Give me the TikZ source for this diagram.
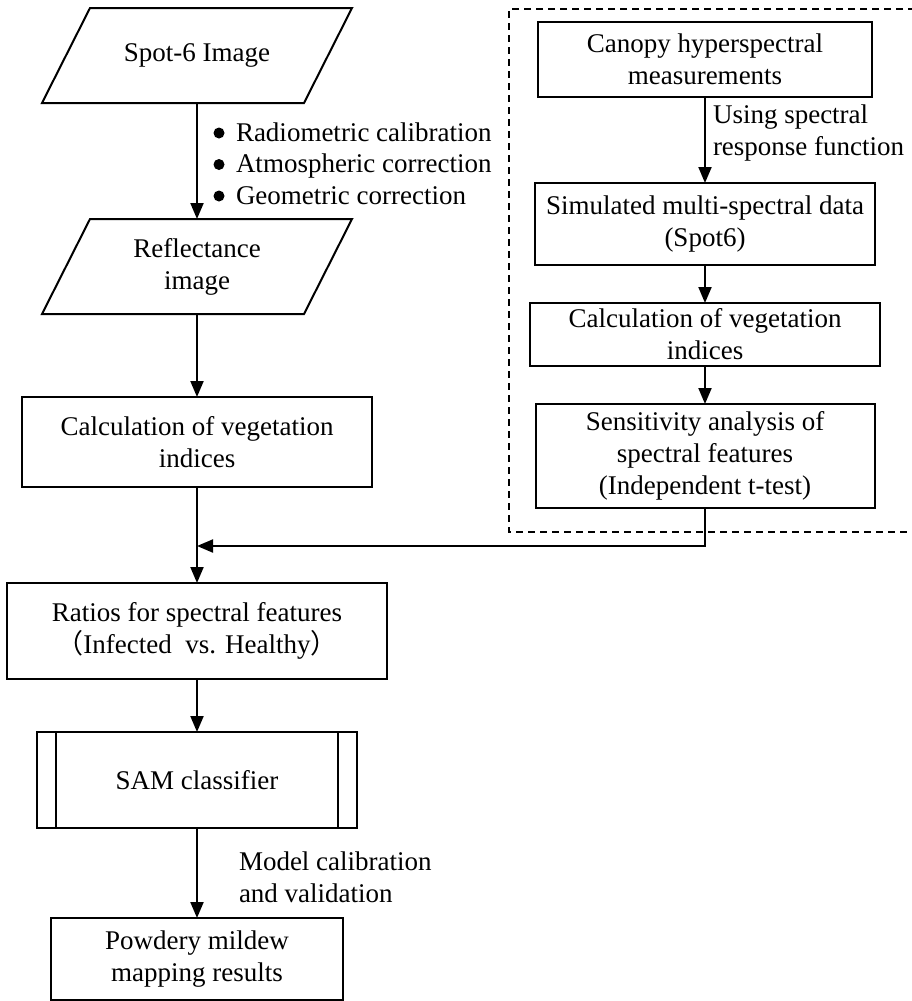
\documentclass[tikz,border=0pt]{standalone}
\usepackage{fontspec}
\setmainfont{Liberation Serif}
\newfontfamily\cjk{Noto Sans CJK SC}
\usetikzlibrary{arrows.meta}
\begin{document}
\begin{tikzpicture}[x=1pt,y=-1pt,
  every node/.style={font=\fontsize{27}{32}\selectfont, inner sep=0pt, outer sep=0pt},
  box/.style={draw, line width=2pt, align=center},
  para/.style={align=center},
  lbl/.style={align=left, anchor=west},
  bl/.style={anchor=base west},
  arr/.style={line width=2pt, -{Triangle[length=16pt,width=13pt]}},
  ln/.style={line width=2pt},
  dashbox/.style={line width=1.6pt, dash pattern=on 7pt off 5pt}
]
\useasboundingbox (0,0) rectangle (911,1001);

% ---- left column ----
\node[para, minimum width=262pt, minimum height=95pt] (spot) at (197,55.5) {Spot-6 Image};
\draw[ln, line join=miter] ([xshift=24pt]spot.north west) -- ([xshift=24pt]spot.north east)
  -- ([xshift=-24pt]spot.south east) -- ([xshift=-24pt]spot.south west) -- cycle;

\node[para, minimum width=262pt, minimum height=95pt] (refl) at (197,266.5) {Reflectance\\image};
\draw[ln, line join=miter] ([xshift=24pt]refl.north west) -- ([xshift=24pt]refl.north east)
  -- ([xshift=-24pt]refl.south east) -- ([xshift=-24pt]refl.south west) -- cycle;

\node[box, minimum width=350pt, minimum height=90pt] (calc) at (197,442) {Calculation of vegetation\\indices};
\node[box, minimum width=380pt, minimum height=96pt] (ratio) at (197,631)
  {Ratios for spectral features\\{\cjk （}Infected\ \ vs. Healthy{\cjk ）}};
\node[box, minimum width=320pt, minimum height=96pt] (sam) at (197,780) {SAM classifier};
\draw[ln] ([xshift=19pt]sam.north west) -- ([xshift=19pt]sam.south west);
\draw[ln] ([xshift=-19pt]sam.north east) -- ([xshift=-19pt]sam.south east);
\node[box, minimum width=292pt, minimum height=82pt] (map) at (197,959) {Powdery mildew\\mapping results};

\node[bl] (pre1) at (236,141) {Radiometric calibration};
\node[bl] (pre2) at (236,172.5) {Atmospheric correction};
\node[bl] (pre3) at (236,204) {Geometric correction};
\fill ([xshift=-17pt,yshift=8pt]pre1.base west) circle (5.5pt);
\fill ([xshift=-17pt,yshift=8pt]pre2.base west) circle (5.5pt);
\fill ([xshift=-17pt,yshift=8pt]pre3.base west) circle (5.5pt);
\node[lbl] (mcal) at (239,877) {Model calibration\\and validation};

\coordinate (j) at (197,546);
\draw[arr] (spot.south) -- (refl.north);
\draw[arr] (refl.south) -- (calc.north);
\draw[arr] (calc.south) -- (ratio.north);
\draw[arr] (ratio.south) -- (sam.north);
\draw[arr] (sam.south) -- (map.north);

% ---- right column ----
\draw[dashbox] (915,9) -- (509,9) -- (509,532) -- (915,532);
\node[box, minimum width=334pt, minimum height=75pt] (canopy) at (705,59.5) {Canopy hyperspectral\\measurements};
\node[box, minimum width=340pt, minimum height=82pt] (sim) at (705,224) {Simulated multi-spectral data\\(Spot6)};
\node[box, minimum width=350pt, minimum height=63pt] (calc2) at (705,334.5) {Calculation of vegetation\\indices};
\node[box, minimum width=339pt, minimum height=104pt] (sens) at (705,456) {Sensitivity analysis of\\spectral features\\(Independent t-test)};
\node[lbl] (srf) at (713,133) {Using spectral\\response function};

\draw[arr] (canopy.south) -- (sim.north);
\draw[arr] (sim.south) -- (calc2.north);
\draw[arr] (calc2.south) -- (sens.north);
\draw[arr] (sens.south) |- (j);
\end{tikzpicture}
\end{document}
